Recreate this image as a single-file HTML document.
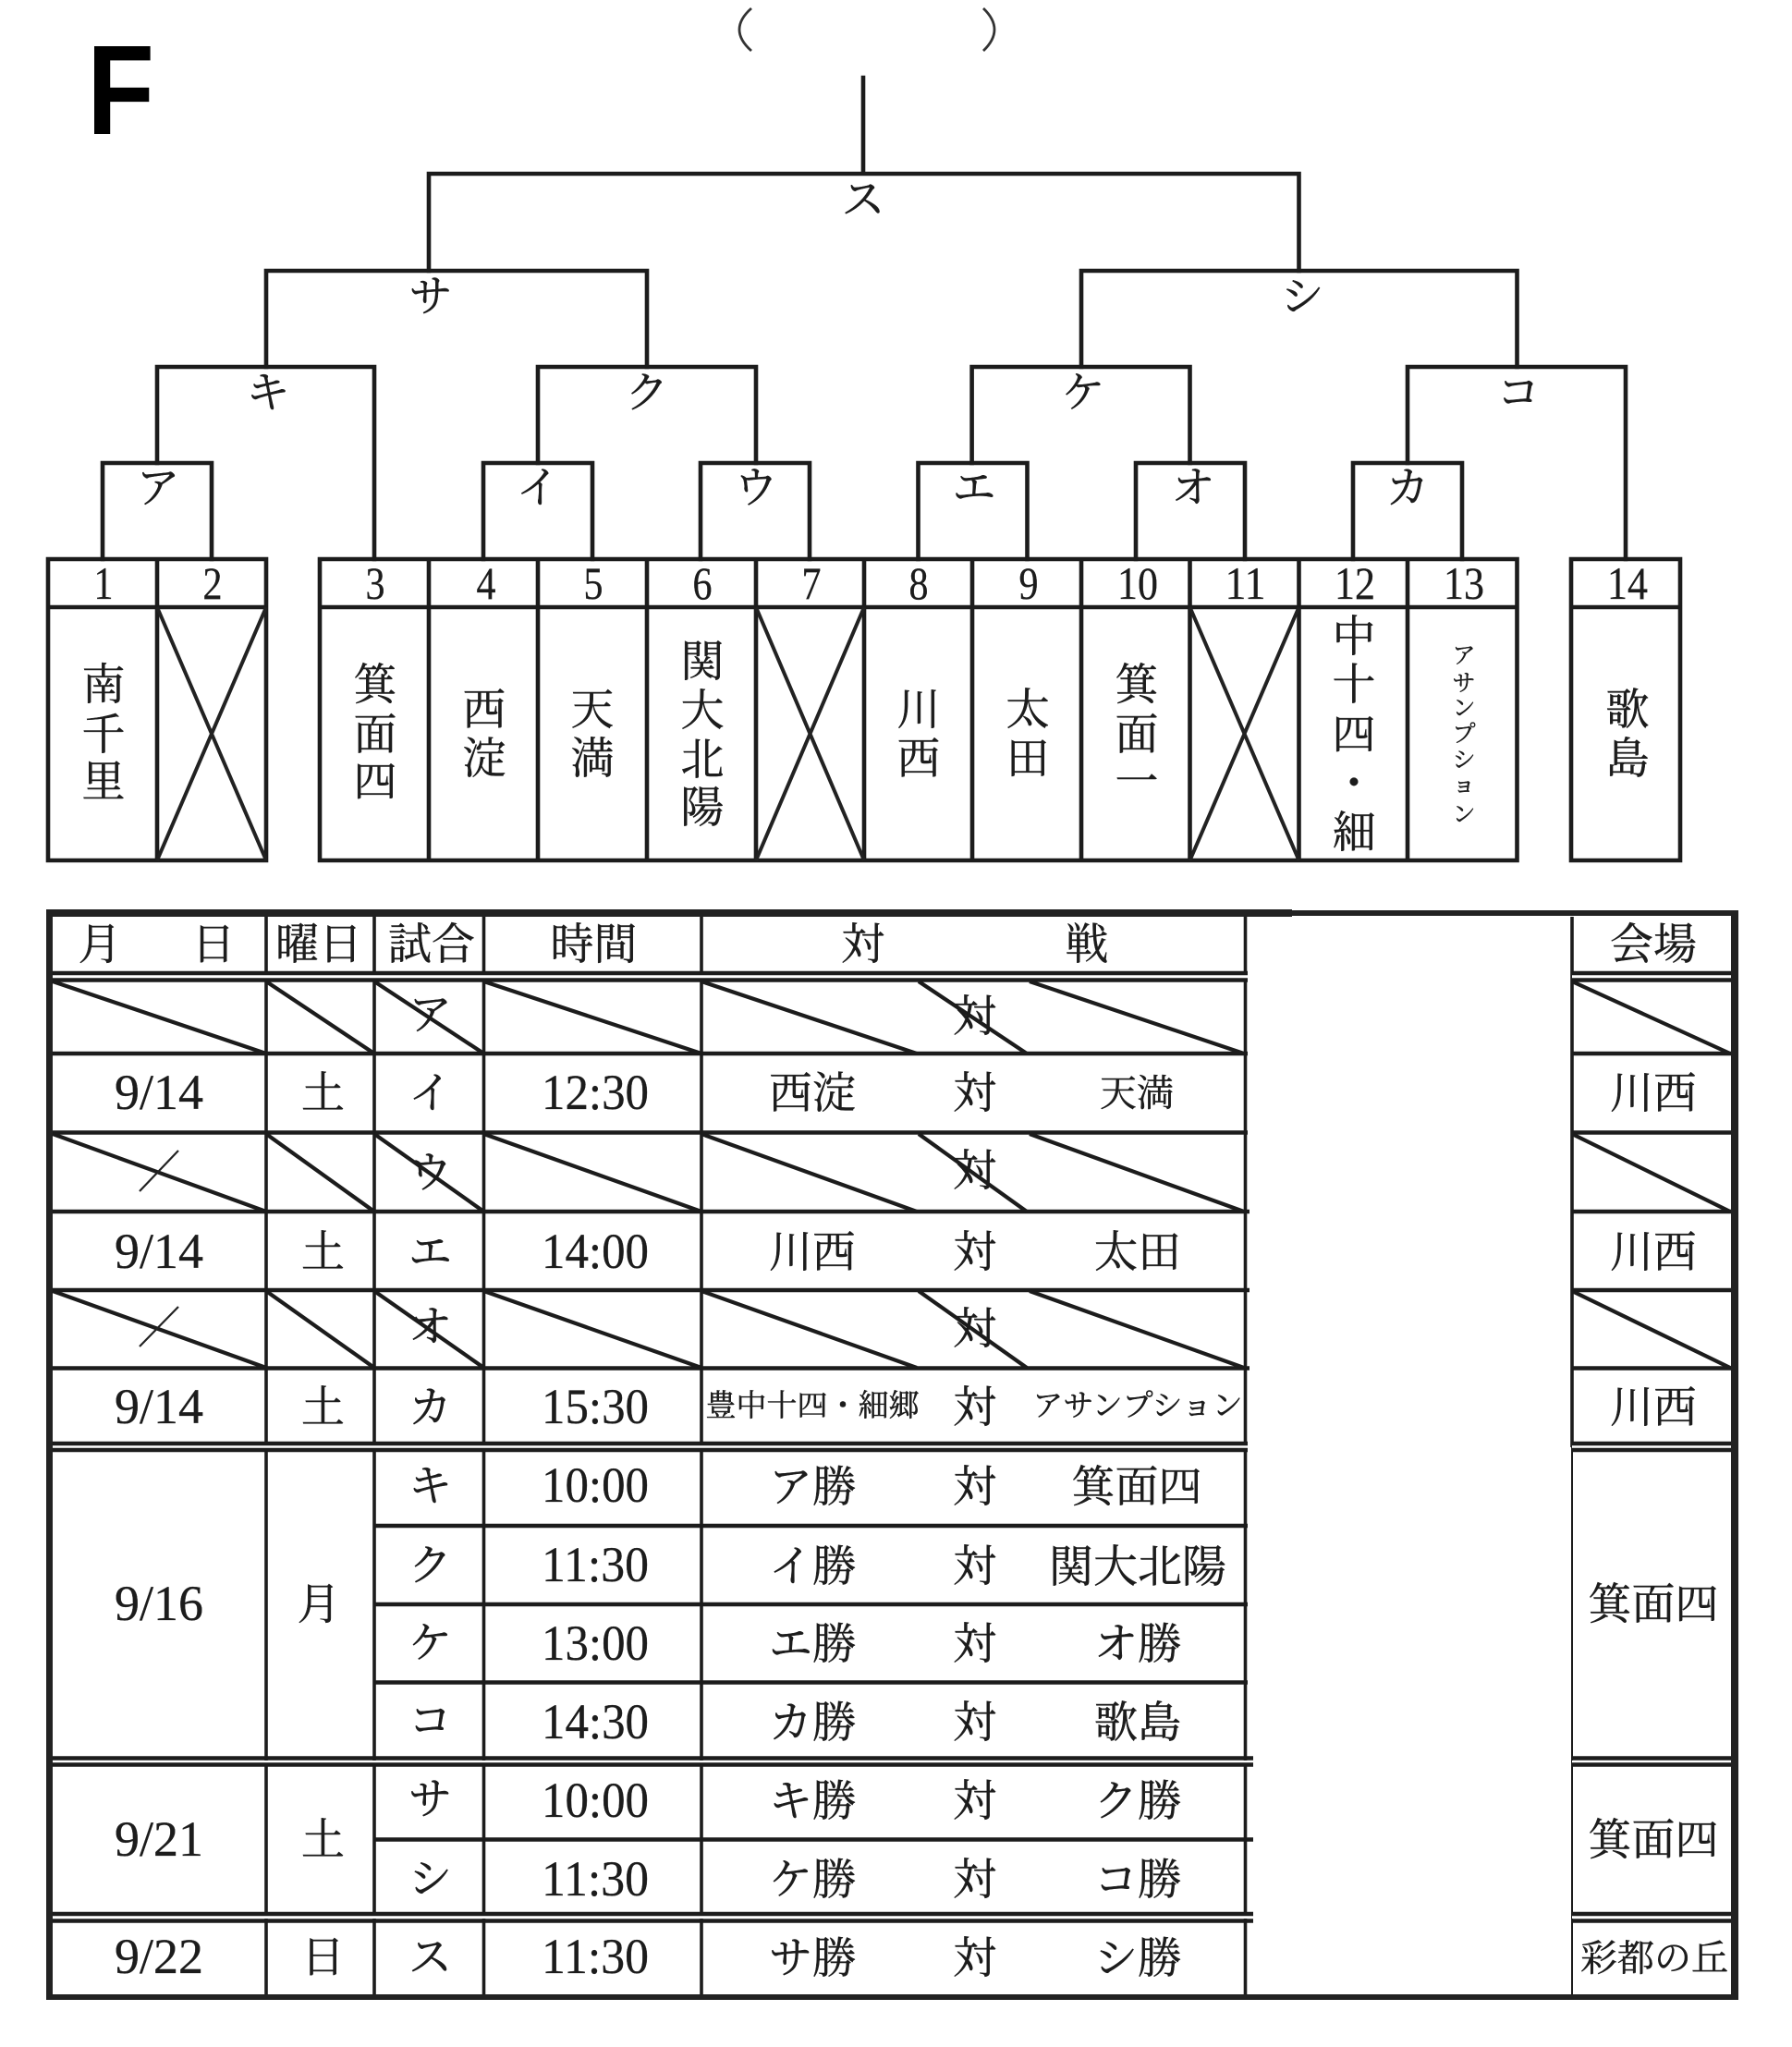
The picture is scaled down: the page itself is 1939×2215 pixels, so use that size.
<!DOCTYPE html>
<html lang="ja">
<head>
<meta charset="utf-8">
<title>F</title>
<style>
html,body{margin:0;padding:0;background:#fff;width:1939px;height:2215px;overflow:hidden}
svg{display:block}
.l{fill:none;stroke:#1c1c1c;stroke-width:4.6;stroke-linecap:square}
.t{fill:none;stroke:#1c1c1c;stroke-width:3.6}
.x{fill:none;stroke:#222;stroke-width:4}
.j{font-family:"Liberation Serif","Noto Serif CJK JP","Noto Serif CJK SC",serif;font-weight:400;fill:#1c1c1c;stroke:#1c1c1c;stroke-width:.45;text-anchor:middle;dominant-baseline:central;font-size:47px;transform:translateY(2px)}
.n{font-family:"Liberation Serif",serif;fill:#1c1c1c;stroke:#1c1c1c;stroke-width:.3;text-anchor:middle;font-size:54px}
.b{font-size:50px}
</style>
</head>
<body>
<svg xmlns="http://www.w3.org/2000/svg" width="1939" height="2215" viewBox="0 0 1939 2215">
<rect width="1939" height="2215" fill="#fff"/>
<text x="94" y="145" font-family="Liberation Sans, sans-serif" font-weight="700" font-size="138" fill="#000" textLength="73" lengthAdjust="spacingAndGlyphs">F</text>
<path d="M813 9Q787 32 813 55M1064 9Q1088 32 1064 55" fill="none" stroke="#333" stroke-width="2.8"/>

<!-- bracket -->
<path class="l" d="M934 84V188M464 293V188H1405.5V293"/>
<path class="l" d="M288 397V293H700V397M1170 397V293H1641.5V397"/>
<path class="l" d="M170 501V397H405V605M582 501V397H818V501M1051.6 501V397H1287.5V501M1523 501V397H1759V605"/>
<path class="l" d="M111 605V501H229V605M523 605V501H641V605M758 605V501H876V605M993.5 605V501H1111.5V605M1229 605V501H1347V605M1464 605V501H1582V605"/>

<!-- boxes -->
<path class="l" d="M52 605H288V931H52ZM52 657H288M170 605V931"/>
<path class="l" d="M346 605H1641.5V931H346ZM346 657H1641.5M464 605V931M582 605V931M700 605V931M818 605V931M935 605V931M1052 605V931M1170 605V931M1287.5 605V931M1405.5 605V931M1523 605V931"/>
<path class="l" d="M1700 605H1818V931H1700ZM1700 657H1818"/>
<path class="x" d="M170 657L288 931M288 657L170 931M818 657L935 931M935 657L818 931M1287.5 657L1405.5 931M1405.5 657L1287.5 931"/>

<!-- bracket labels -->
<text class="j" x="934" y="215">ス</text>
<text class="j" x="466" y="320">サ</text>
<text class="j" x="1409" y="320">シ</text>
<text class="j" x="290" y="424">キ</text>
<text class="j" x="700" y="424">ク</text>
<text class="j" x="1172" y="424">ケ</text>
<text class="j" x="1643" y="424">コ</text>
<text class="j" x="171" y="527">ア</text>
<text class="j" x="582" y="527">イ</text>
<text class="j" x="818" y="527">ウ</text>
<text class="j" x="1054" y="527">エ</text>
<text class="j" x="1291" y="527">オ</text>
<text class="j" x="1523" y="527">カ</text>
<!-- numbers -->
<text class="n b" x="112" y="648" textLength="21" lengthAdjust="spacingAndGlyphs">1</text>
<text class="n b" x="230" y="648" textLength="21" lengthAdjust="spacingAndGlyphs">2</text>
<text class="n b" x="406" y="648" textLength="21" lengthAdjust="spacingAndGlyphs">3</text>
<text class="n b" x="526" y="648" textLength="21" lengthAdjust="spacingAndGlyphs">4</text>
<text class="n b" x="642" y="648" textLength="21" lengthAdjust="spacingAndGlyphs">5</text>
<text class="n b" x="760" y="648" textLength="21" lengthAdjust="spacingAndGlyphs">6</text>
<text class="n b" x="878" y="648" textLength="21" lengthAdjust="spacingAndGlyphs">7</text>
<text class="n b" x="994" y="648" textLength="21" lengthAdjust="spacingAndGlyphs">8</text>
<text class="n b" x="1113" y="648" textLength="21" lengthAdjust="spacingAndGlyphs">9</text>
<text class="n b" x="1231" y="648" textLength="44" lengthAdjust="spacingAndGlyphs">10</text>
<text class="n b" x="1347.5" y="648" textLength="44" lengthAdjust="spacingAndGlyphs">11</text>
<text class="n b" x="1466" y="648" textLength="44" lengthAdjust="spacingAndGlyphs">12</text>
<text class="n b" x="1584" y="648" textLength="44" lengthAdjust="spacingAndGlyphs">13</text>
<text class="n b" x="1761" y="648" textLength="44" lengthAdjust="spacingAndGlyphs">14</text>
<!-- vertical names -->
<text class="j" x="112" y="740">南</text><text class="j" x="112" y="794">千</text><text class="j" x="112" y="845">里</text>
<text class="j" x="406" y="740">箕</text><text class="j" x="406" y="794">面</text><text class="j" x="406" y="845">四</text>
<text class="j" x="524" y="767">西</text><text class="j" x="524" y="820">淀</text>
<text class="j" x="641" y="767">天</text><text class="j" x="641" y="820">満</text>
<text class="j" x="760" y="715">関</text><text class="j" x="760" y="768">大</text><text class="j" x="760" y="821">北</text><text class="j" x="760" y="873">陽</text>
<text class="j" x="994" y="767">川</text><text class="j" x="994" y="820">西</text>
<text class="j" x="1112" y="767">太</text><text class="j" x="1112" y="820">田</text>
<text class="j" x="1230" y="740">箕</text><text class="j" x="1230" y="794">面</text><text class="j" x="1230" y="845">一</text>
<text class="j" x="1465" y="688">中</text><text class="j" x="1465" y="740">十</text><text class="j" x="1465" y="794">四</text><text class="j" x="1465" y="847">・</text><text class="j" x="1465" y="900">細</text>
<text class="j" style="font-size:25px" x="1584" y="708">ア</text><text class="j" style="font-size:25px" x="1584" y="738">サ</text><text class="j" style="font-size:25px" x="1584" y="765">ン</text><text class="j" style="font-size:25px" x="1584" y="793">プ</text><text class="j" style="font-size:25px" x="1584" y="821">シ</text><text class="j" style="font-size:25px" x="1584" y="848">ョ</text><text class="j" style="font-size:25px" x="1584" y="880">ン</text>
<text class="j" x="1761" y="767">歌</text><text class="j" x="1761" y="820">島</text>

<!-- table verticals -->
<path class="t" d="M288 992V2160M405 992V2160M523.5 992V2160M759 992V2160M1347.5 992V2160M1701 992V1566"/>
<path class="t" style="stroke-width:2" d="M1701 1566V2160"/>
<!-- gaps of double rules -->
<g fill="#fff">
<rect x="57" y="1055" width="1293" height="4"/><rect x="1701" y="1055" width="171" height="4"/>
<rect x="57" y="1564" width="1293" height="3"/><rect x="1701" y="1564" width="171" height="3"/>
<rect x="57" y="1905" width="1296" height="3"/><rect x="1701" y="1905" width="171" height="3"/>
<rect x="57" y="2073" width="1296" height="3"/><rect x="1701" y="2073" width="171" height="3"/>
</g>
<!-- table horizontals -->
<path class="l" style="stroke-linecap:butt" d="M57 1053H1350M57 1060.5H1350M1701 1053H1874M1701 1060.5H1874
M57 1140H1350M1701 1140H1874
M57 1225.5H1350M1701 1225.5H1874
M57 1311H1352M1701 1311H1874
M57 1396H1352M1701 1396H1874
M57 1480.5H1352M1701 1480.5H1874
M57 1562H1350M57 1569H1350M1701 1562H1874M1701 1569H1874
M405 1651H1350M405 1736H1350M405 1820.5H1350
M57 1902.5H1356M57 1909.5H1356M1701 1902.5H1874M1701 1909.5H1874
M405 1990.5H1356
M57 2071H1356M57 2078.5H1356M1701 2071H1874M1701 2078.5H1874"/>
<!-- outer frame -->
<path fill="#222" d="M50 984H1398V992H57V2158H1398V2164H50Z"/>
<path fill="#222" d="M1398 985H1881V2164H1398V2158H1873V991H1398Z"/>

<!-- diagonals -->
<g fill="none" stroke="#1c1c1c" stroke-width="4.2">
<path d="M57 1062L288 1140M288 1062L405 1140M405 1062L523.5 1140M523.5 1062L759 1140M759 1062L992 1140M994 1062L1111 1140M1114 1062L1346 1140M1701 1062L1872 1140"/>
<path d="M57 1227L288 1311M288 1227L405 1311M405 1227L523.5 1311M523.5 1227L759 1311M759 1227L992 1311M994 1227L1111 1311M1114 1227L1346 1311M1701 1227L1872 1311"/>
<path d="M57 1397L288 1480M288 1397L405 1480M405 1397L523.5 1480M523.5 1397L759 1480M759 1397L992 1480M994 1397L1111 1480M1114 1397L1346 1480M1701 1397L1872 1480"/>
</g>
<path d="M193 1245L151 1289M193 1414L151 1457" stroke="#222" stroke-width="2.2" fill="none"/>

<!-- header -->
<text class="j" x="108" y="1021">月</text><text class="j" x="231" y="1021">日</text>
<text class="j" x="345" y="1021">曜日</text>
<text class="j" x="467" y="1021">試合</text>
<text class="j" x="642.5" y="1021">時間</text>
<text class="j" x="934" y="1021">対</text><text class="j" x="1176" y="1021">戦</text>
<text class="j" x="1789" y="1021">会場</text>

<!-- rows -->
<text class="j" x="465.5" y="1097">ア</text><text class="j" x="1055" y="1099">対</text>

<text class="n" x="172" y="1200" textLength="96" lengthAdjust="spacingAndGlyphs">9/14</text><text class="j" x="349.5" y="1182">土</text><text class="j" x="465.5" y="1182">イ</text><text class="n" x="644" y="1200" textLength="116" lengthAdjust="spacingAndGlyphs">12:30</text>
<text class="j" x="879" y="1182">西淀</text><text class="j" x="1055" y="1182">対</text><text class="j" style="font-size:40px" x="1230" y="1181">天満</text><text class="j" x="1789" y="1182">川西</text>

<text class="j" x="465.5" y="1268">ウ</text><text class="j" x="1055" y="1266">対</text>

<text class="n" x="172" y="1372" textLength="96" lengthAdjust="spacingAndGlyphs">9/14</text><text class="j" x="349.5" y="1354">土</text><text class="j" x="465.5" y="1354">エ</text><text class="n" x="644" y="1372" textLength="116" lengthAdjust="spacingAndGlyphs">14:00</text>
<text class="j" x="879" y="1354">川西</text><text class="j" x="1055" y="1354">対</text><text class="j" x="1231" y="1354">太田</text><text class="j" x="1789" y="1354">川西</text>

<text class="j" x="465.5" y="1435">オ</text><text class="j" x="1055" y="1437">対</text>

<text class="n" x="172" y="1540" textLength="96" lengthAdjust="spacingAndGlyphs">9/14</text><text class="j" x="349.5" y="1522">土</text><text class="j" x="465.5" y="1522">カ</text><text class="n" x="644" y="1540" textLength="116" lengthAdjust="spacingAndGlyphs">15:30</text>
<text class="j" style="font-size:33px" x="879" y="1520">豊中十四・細郷</text><text class="j" x="1055" y="1522">対</text><text class="j" style="font-size:33px" x="1231" y="1520">アサンプション</text><text class="j" x="1789" y="1522">川西</text>

<text class="n" x="172" y="1753" textLength="96" lengthAdjust="spacingAndGlyphs">9/16</text><text class="j" x="345" y="1735">月</text><text class="j" x="1789" y="1735">箕面四</text>

<text class="j" x="465.5" y="1607">キ</text><text class="n" x="644" y="1625" textLength="116" lengthAdjust="spacingAndGlyphs">10:00</text><text class="j" x="879" y="1608">ア勝</text><text class="j" x="1055" y="1608">対</text><text class="j" x="1230" y="1608">箕面四</text>
<text class="j" x="465.5" y="1693">ク</text><text class="n" x="644" y="1711" textLength="116" lengthAdjust="spacingAndGlyphs">11:30</text><text class="j" x="879" y="1694">イ勝</text><text class="j" x="1055" y="1694">対</text><text class="j" style="font-size:48px" x="1231" y="1694">関大北陽</text>
<text class="j" x="465.5" y="1777">ケ</text><text class="n" x="644" y="1796" textLength="116" lengthAdjust="spacingAndGlyphs">13:00</text><text class="j" x="879" y="1778">エ勝</text><text class="j" x="1055" y="1778">対</text><text class="j" x="1231" y="1778">オ勝</text>
<text class="j" x="465.5" y="1861">コ</text><text class="n" x="644" y="1881" textLength="116" lengthAdjust="spacingAndGlyphs">14:30</text><text class="j" x="879" y="1863">カ勝</text><text class="j" x="1055" y="1863">対</text><text class="j" x="1231" y="1863">歌島</text>

<text class="n" x="172" y="2008" textLength="96" lengthAdjust="spacingAndGlyphs">9/21</text><text class="j" x="349.5" y="1990">土</text><text class="j" x="1789" y="1990">箕面四</text>

<text class="j" x="465.5" y="1946">サ</text><text class="n" x="644" y="1966" textLength="116" lengthAdjust="spacingAndGlyphs">10:00</text><text class="j" x="879" y="1948">キ勝</text><text class="j" x="1055" y="1948">対</text><text class="j" x="1231" y="1948">ク勝</text>
<text class="j" x="465.5" y="2032">シ</text><text class="n" x="644" y="2051" textLength="116" lengthAdjust="spacingAndGlyphs">11:30</text><text class="j" x="879" y="2033">ケ勝</text><text class="j" x="1055" y="2033">対</text><text class="j" x="1231" y="2033">コ勝</text>

<text class="n" x="172" y="2135" textLength="96" lengthAdjust="spacingAndGlyphs">9/22</text><text class="j" x="349.5" y="2117">日</text><text class="j" x="465.5" y="2117">ス</text><text class="n" x="644" y="2135" textLength="116" lengthAdjust="spacingAndGlyphs">11:30</text>
<text class="j" x="879" y="2118">サ勝</text><text class="j" x="1055" y="2118">対</text><text class="j" x="1231" y="2118">シ勝</text><text class="j" style="font-size:40px" x="1790" y="2117">彩都の丘</text>
</svg>
</body>
</html>
